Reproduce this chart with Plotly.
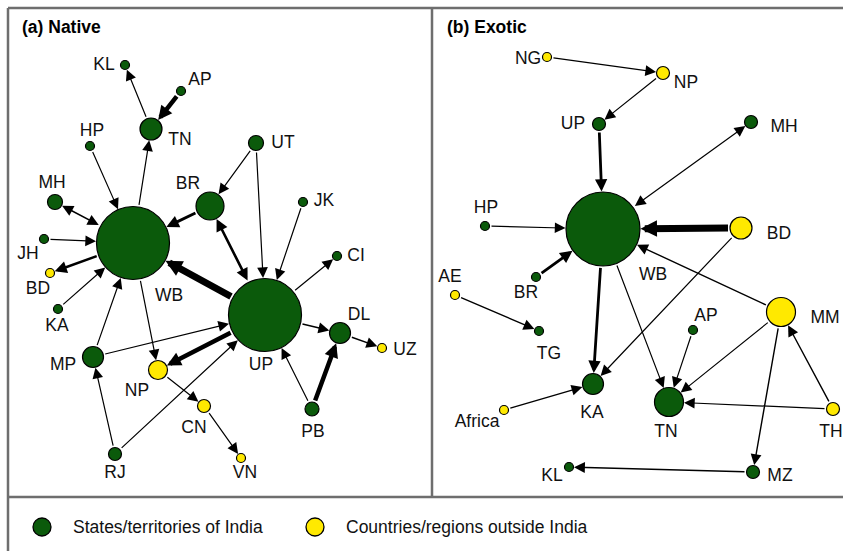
import plotly.graph_objects as go

# ---------------- data ----------------
# Panel (a) Native
a_nodes = ["KL", "AP", "TN", "HP", "UT", "BR", "JK", "MH", "WB", "JH", "BD", "KA",
           "CI", "UP", "DL", "UZ", "MP", "NP", "CN", "PB", "RJ", "VN"]
a_x = [125, 181, 151, 90, 256, 210, 303, 55, 133, 44, 50, 58,
       337, 265, 340, 382, 93, 158, 204, 312, 115, 241]
a_y = [65, 91, 129, 146, 143, 206, 202, 202, 243, 239, 273, 309,
       256, 315, 333, 348, 357, 370, 406, 409, 454, 458]
a_radius = [4, 4, 10.5, 4, 7, 13.5, 4, 7, 36, 4, 4, 4,
            4, 36, 10, 4, 10, 9, 6, 6.5, 6, 4]
a_outside = ["BD", "UZ", "NP", "CN", "VN"]
a_edges = [("TN", "KL", 1.2, False), ("AP", "TN", 4.5, False), ("WB", "TN", 1.2, False),
           ("HP", "WB", 1.2, False), ("WB", "MH", 1.6, True), ("JH", "WB", 1.2, False),
           ("WB", "BD", 2.6, False), ("KA", "WB", 1.2, False), ("BR", "WB", 3, False),
           ("UT", "BR", 1.2, False), ("UT", "UP", 1.2, False), ("UP", "BR", 2.6, True),
           ("JK", "UP", 1.2, False), ("UP", "WB", 7, False), ("UP", "CI", 1.2, False),
           ("UP", "DL", 1.4, False), ("DL", "UZ", 1.4, False), ("PB", "UP", 1.2, False),
           ("PB", "DL", 4.5, False), ("MP", "WB", 1.2, False), ("MP", "UP", 1.2, False),
           ("RJ", "MP", 1.2, False), ("RJ", "UP", 1.2, False), ("WB", "NP", 1.2, False),
           ("UP", "NP", 4.5, False), ("NP", "CN", 1.2, False), ("CN", "VN", 1.2, False)]

# Panel (b) Exotic
b_nodes = ["NG", "NP", "UP", "MH", "HP", "WB", "BD", "AE", "BR", "TG", "AP", "MM",
           "KA", "TN", "Africa", "TH", "KL", "MZ"]
b_x = [547, 663, 599, 751, 485, 603, 741, 455, 536, 539, 693, 781,
       593, 669, 504, 833, 569, 753]
b_y = [57, 73, 124, 122, 226, 229, 228, 295, 277, 331, 330, 312,
       384, 402, 410, 409, 467, 472]
b_radius = [4, 6, 6, 6, 4, 36.5, 10.5, 4, 4, 4, 4, 14,
            10, 14, 4, 6, 4, 6]
b_outside = ["NG", "NP", "BD", "AE", "MM", "Africa", "TH"]
b_edges = [("NG", "NP", 1.2, False), ("NP", "UP", 1.2, False), ("UP", "WB", 2.8, False),
           ("WB", "MH", 1.2, True), ("HP", "WB", 1.2, False), ("BD", "WB", 7, False),
           ("BD", "KA", 1.2, False), ("BR", "WB", 2.8, False), ("AE", "TG", 1.4, False),
           ("WB", "KA", 2.8, False), ("WB", "TN", 1.2, False), ("MM", "WB", 1.4, False),
           ("AP", "TN", 1.2, False), ("MM", "TN", 1.2, False), ("MM", "MZ", 1.4, False),
           ("TH", "TN", 1.2, False), ("TH", "MM", 1.4, False), ("Africa", "KA", 1.4, False),
           ("MZ", "KL", 1.4, False)]

panel_titles = ["(a) Native", "(b) Exotic"]
legend_labels = ["States/territories of India", "Countries/regions outside India"]

# ---------------- styles / layout ----------------
W, H = 843, 551
GREEN = "#0b5a0b"
YELLOW = "#ffe900"
FRAME = "#6e6e6e"
FONT = "Liberation Sans, Arial, sans-serif"
LABEL_SIZE = 17.5

# label offsets (dx, dy) in pixels from node centre
a_label_off = {"KL": (-21, 1), "AP": (19, -10), "TN": (29, 12), "HP": (2, -14),
               "UT": (27, 1), "BR": (-22, -21), "JK": (21, 0), "MH": (-3, -18),
               "WB": (36, 54), "JH": (-16, 16), "BD": (-12, 17), "KA": (-1, 18),
               "CI": (19, 1), "UP": (-4, 51), "DL": (19, -17), "UZ": (23, 3),
               "MP": (-30, 9), "NP": (-21, 22), "CN": (-10, 23), "PB": (1, 24),
               "RJ": (0, 20), "VN": (4, 16)}
b_label_off = {"NG": (-19, 3), "NP": (23, 11), "UP": (-26, 1), "MH": (33, 6),
               "HP": (1, -17), "WB": (50, 47), "BD": (38, 7), "AE": (-5, -17),
               "BR": (-10, 17), "TG": (10, 24), "AP": (13, -13), "MM": (44, 7),
               "KA": (-1, 30), "TN": (-3, 31), "Africa": (-27, 13), "TH": (-2, 24),
               "KL": (-17, 10), "MZ": (27, 5)}

fig = go.Figure()
annotations = []


def add_panel(nodes, xs, ys, rads, outside, edges, offs):
    idx = {n: i for i, n in enumerate(nodes)}
    for s, t, w, both in edges:
        i, j = idx[s], idx[t]
        scale = 1.9 + 0.2 * w
        annotations.append(dict(
            x=xs[j], y=ys[j], ax=xs[i], ay=ys[i],
            xref="x", yref="y", axref="x", ayref="y",
            text="", showarrow=True, arrowhead=2, arrowwidth=w,
            arrowsize=scale / w, arrowcolor="black",
            standoff=rads[j] + 1, startstandoff=rads[i] + 1,
            arrowside="end+start" if both else "end",
            startarrowhead=2, startarrowsize=scale / w,
        ))
    colors = [YELLOW if n in outside else GREEN for n in nodes]
    fig.add_trace(go.Scatter(
        x=xs, y=ys, mode="markers",
        marker=dict(size=[2 * r + 1 for r in rads], color=colors,
                    line=dict(color="black", width=1.2), opacity=1),
        hoverinfo="text", text=nodes, showlegend=False, cliponaxis=False))
    fig.add_trace(go.Scatter(
        x=[xs[idx[n]] + offs[n][0] for n in nodes],
        y=[ys[idx[n]] + offs[n][1] for n in nodes],
        mode="text", text=nodes, textposition="middle center",
        textfont=dict(family=FONT, size=LABEL_SIZE, color="#111111"),
        hoverinfo="skip", showlegend=False, cliponaxis=False))


add_panel(a_nodes, a_x, a_y, a_radius, a_outside, a_edges, a_label_off)
add_panel(b_nodes, b_x, b_y, b_radius, b_outside, b_edges, b_label_off)

for title, tx in zip(panel_titles, [20, 445]):
    annotations.append(dict(x=tx, y=27, xref="x", yref="y", text="<b>" + title + "</b>",
                            showarrow=False, xanchor="left", yanchor="middle",
                            font=dict(family=FONT, size=17.5, color="black")))

leg_x = [42, 315]
fig.add_trace(go.Scatter(
    x=leg_x, y=[527, 527], mode="markers",
    marker=dict(size=18, color=[GREEN, YELLOW], line=dict(color="black", width=1.3)),
    hoverinfo="skip", showlegend=False, cliponaxis=False))
for lab, lx in zip(legend_labels, leg_x):
    annotations.append(dict(x=lx + 29, y=527, xref="x", yref="y", text=lab,
                            showarrow=False, xanchor="left", yanchor="middle",
                            font=dict(family=FONT, size=17.5, color="#111111")))

shapes = [
    dict(type="line", x0=8, y0=8, x1=W + 5, y1=8, line=dict(color=FRAME, width=2.5)),
    dict(type="line", x0=8, y0=8, x1=8, y1=H + 5, line=dict(color=FRAME, width=2.5)),
    dict(type="line", x0=432, y0=8, x1=432, y1=497, line=dict(color=FRAME, width=2.5)),
    dict(type="line", x0=8, y0=497, x1=W + 5, y1=497, line=dict(color=FRAME, width=2.5)),
]

fig.update_layout(
    width=W, height=H, margin=dict(l=0, r=0, t=0, b=0),
    paper_bgcolor="white", plot_bgcolor="white",
    xaxis=dict(range=[0, W], visible=False, fixedrange=True),
    yaxis=dict(range=[H, 0], visible=False, fixedrange=True),
    annotations=annotations, shapes=shapes, showlegend=False,
)
fig.write_html(
    "out.html",
    config={"displayModeBar": False, "staticPlot": True},
    post_script="document.body.style.margin='0';document.body.style.overflow='hidden';",
)
